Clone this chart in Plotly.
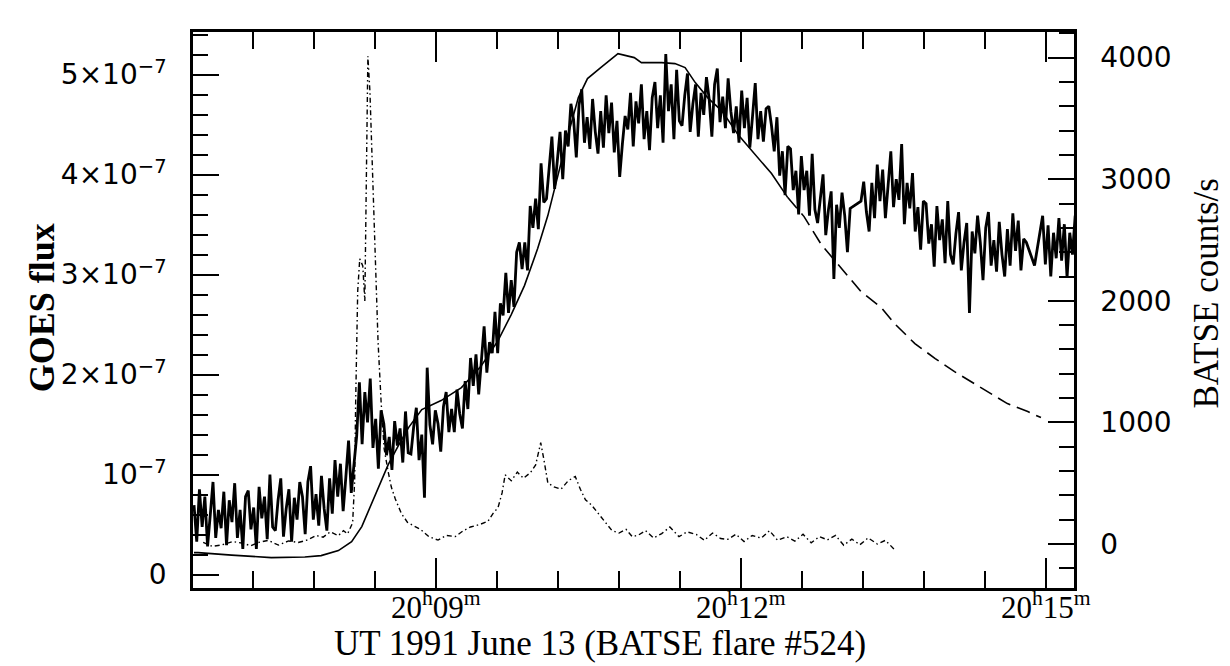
import plotly.graph_objects as go

# ---------------- data ----------------
# time is in minutes after 20:00 UT, 1991 June 13
batse_t0 = 6.62          # time of first BATSE sample (min)
batse_dt = 1.6 / 60.0    # BATSE sample interval (min)
# BATSE counts/s (None = data gap)
batse_counts = [
    320, 20, 450, 140, 390, -20, 240, 510, 50, 280,
    130, 430, -10, 360, 180, 500, 50, 280, -40, 390,
    440, 120, 300, -40, 470, 210, 390, 40, 570, 140,
    110, 360, 540, 60, 290, 450, 20, 380, 200, 510,
    390, 80, 510, 640, 200, 410, 150, 560, 290, 110,
    540, 250, 690, 390, 660, 270, 550, 850, 420, 680,
    890, 1330, 820, 1250, 1000, 1360, 790, 1030, 620, 1100,
    990, 730, 880, 610, 1010, 810, 950, 670, 1090, 750,
    740, 960, 1120, 690, 900, 380, 1450, 980, 820, 1100,
    990, 760, 1130, 1250, 920, 1110, 920, 1270, 1070, 950,
    1340, 1110, 1530, 1300, 1560, 1230, 1510, 1790, 1410, 1660,
    1570, 1910, 1570, 1980, 1880, 2230, 1900, 2170, 1950, 2400,
    2480, 2260, 2480, 2250, 2780, 2600, 2840, 2590, 3130, 2810,
    2840, 3130, 3350, 2920, 3190, 3390, 3000, 3400, 3270, 3620,
    3490, 3180, 3610, 3740, 3300, 3510, 3250, 3660, 3390, 3210,
    3560, 3260, 3690, 3380, 3630, 3220, 3480, 3020, 3290, 3520,
    3410, 3710, 3270, 3640, 3460, 3780, 3330, 3560, 3240, 3670,
    3800, 3420, 3690, 3300, 4030, 3560, 3780, 3330, 3900, 3480,
    3440, 3690, 3870, 3390, 3620, 3780, 3350, 3710, 3530, 3840,
    3660, 3350, 3780, 3910, 3470, 3680, 3420, 3830, 3560, 3380,
    3600, 3300, 3730, 3420, 3670, 3260, 3520, 3790, 3330, 3560,
    3310, 3580, 3600, 3440, 3230, 3510, 3030, 3230, 2870, 3270,
    3250, 2910, 3070, 2710, 3190, 2910, 3070, 2700, 3210, 2750,
    2640, 2870, 3040, 2540, 2750, 2900, 2180, 2790, 2600, 2890,
    2700, 2400, 2760, None, None, None, 2820, 2980, 2730, 2570,
    2970, 2680, 3120, 2820, 3080, 2680, 2950, 3230, 2770, 3000,
    2830, 3290, 2630, 2970, 2760, 3050, 2570, 2770, 2420, 2820,
    2800, 2470, 2630, 2280, 2780, 2500, 2670, 2310, 2820, 2380,
    2300, 2550, 2730, 2250, 2480, 2640, 1900, 2570, 2390, 2700,
    2480, 2170, 2600, 2730, 2290, 2500, 2240, 2650, 2380, 2200,
    2590, 2290, 2720, 2410, 2660, 2250, 2510, 2480, None, None,
    2290, None, None, 2700, 2300, 2620, 2200, 2560, 2350, 2680,
    2330, 2630, 2190, 2560, 2380, 2700, 2250, 2480, 2160, 2590,
]
batse_t = [batse_t0 + i * batse_dt for i in range(len(batse_counts))]

# GOES flux (units of 1e-7), solid part
goes_t = [6.62, 6.66, 6.99, 7.38, 7.71, 7.87, 8.04, 8.17, 8.27, 8.36, 8.45, 8.53,
          8.63, 8.73, 8.86, 9.05, 9.25, 9.44, 9.61, 9.74, 9.87, 10.0, 10.1, 10.2,
          10.3, 10.4, 10.49, 10.62, 10.79, 10.95, 11.02, 11.22, 11.35, 11.45, 11.55,
          11.68, 11.81, 11.97, 12.13, 12.30, 12.46]
goes_flux = [0.22, 0.22, 0.195, 0.17, 0.176, 0.19, 0.24, 0.33, 0.48, 0.70, 0.92, 1.10,
             1.29, 1.47, 1.65, 1.74, 1.87, 2.08, 2.34, 2.60, 2.89, 3.26, 3.59, 4.00,
             4.40, 4.77, 4.96, 5.07, 5.21, 5.17, 5.12, 5.12, 5.11, 5.07, 4.92,
             4.76, 4.64, 4.40, 4.21, 4.01, 3.77]
# GOES flux, dashed continuation
goes_tail_t = [12.46, 12.62, 12.79, 12.98, 13.18, 13.38, 13.51, 13.71, 13.91, 14.10,
               14.23, 14.43, 14.62, 14.82, 14.95]
goes_tail_flux = [3.77, 3.58, 3.30, 3.07, 2.83, 2.67, 2.51, 2.31, 2.16, 2.03,
                  1.95, 1.83, 1.71, 1.63, 1.57]

# dash-dot curve (BATSE counts/s scale)
hxr_t = [6.71, 6.80, 6.90, 7.00, 7.10, 7.18, 7.25, 7.35, 7.45, 7.55, 7.645, 7.74,
         7.82, 7.89, 7.96, 8.04, 8.09, 8.13, 8.18, 8.20, 8.21, 8.22, 8.23, 8.25,
         8.28, 8.30, 8.31, 8.32, 8.33, 8.35, 8.365, 8.39, 8.41, 8.43, 8.46, 8.49,
         8.53, 8.56, 8.60, 8.66, 8.72, 8.78, 8.85, 8.93, 9.02, 9.10, 9.19, 9.27,
         9.34, 9.43, 9.51, 9.56, 9.61, 9.65, 9.68, 9.74, 9.80, 9.86, 9.93, 9.98,
         10.03, 10.06, 10.10, 10.16, 10.23, 10.30, 10.37, 10.42, 10.47, 10.53, 10.60,
         10.66, 10.73, 10.80, 10.87, 10.93, 10.99, 11.06, 11.14, 11.22, 11.30, 11.39,
         11.47, 11.56, 11.64, 11.72, 11.80, 11.87, 11.95, 12.03, 12.11, 12.20, 12.28,
         12.36, 12.45, 12.53, 12.61, 12.69, 12.77, 12.85, 12.93, 13.01, 13.09, 13.17,
         13.25, 13.34, 13.42, 13.51]
hxr_counts = [14, -20, -6, 20, 6, -15, 12, 30, -9, 25, 12, 34,
              70, 56, 100, 69, 110, 83, 174, 519, 1177, 1752, 2081, 2345,
              2287, 1998, 2820, 3560, 4012, 3724, 3312, 2759, 2215, 1664, 1170, 783,
              593, 470, 370, 250, 178, 150, 118, 60, 32, 70, 61, 110,
              140, 160, 186, 250, 299, 420, 569, 520, 591, 540, 588, 650,
              833, 700, 502, 470, 451, 520, 555, 450, 363, 320, 246,
              180, 111, 90, 120, 60, 73, 110, 50, 85, 140, 60,
              100, 78, 30, 90, 45, 38, 80, 20, 70, 48, 110,
              30, 60, 24, 80, 10, 60, 34, 70, -10, 40, -6,
              50, 0, 30, -46]

# axis ticks
x_tick_vals = [9, 12, 15]
x_tick_text = ["20<sup>h</sup>09<sup>m</sup>", "20<sup>h</sup>12<sup>m</sup>",
               "20<sup>h</sup>15<sup>m</sup>"]
y_tick_vals = [0, 1, 2, 3, 4, 5]
y_tick_text = ["0", "10<sup>−7</sup>", "2×10<sup>−7</sup>", "3×10<sup>−7</sup>",
               "4×10<sup>−7</sup>", "5×10<sup>−7</sup>"]
y2_tick_vals = [0, 1000, 2000, 3000, 4000]
y2_tick_text = ["0", "1000", "2000", "3000", "4000"]

# ---------------- figure ----------------
SERIF = "Liberation Serif"
SANS = "DejaVu Sans"
X_RANGE = [6.61, 15.275]

fig = go.Figure()
fig.add_trace(go.Scatter(x=batse_t, y=batse_counts, yaxis="y2", mode="lines",
                         connectgaps=True, line=dict(color="black", width=2.8)))
fig.add_trace(go.Scatter(x=goes_t, y=goes_flux, mode="lines",
                         line=dict(color="black", width=1.6)))
fig.add_trace(go.Scatter(x=goes_tail_t, y=goes_tail_flux, mode="lines",
                         line=dict(color="black", width=1.6, dash="14px,7px")))
fig.add_trace(go.Scatter(x=hxr_t, y=hxr_counts, yaxis="y2", mode="lines",
                         line=dict(color="black", width=1.4, dash="5px,3px,1.5px,3px")))

axis_common = dict(showgrid=False, zeroline=False, showline=True, linecolor="black",
                   linewidth=2.5, ticks="inside", tickcolor="black", tickwidth=2)

# x tick labels as annotations (placed just below the axis)
x_label_ann = [
    dict(text=txt, x=val, xref="x", y=-0.032, yref="paper", xanchor="center",
         yanchor="middle", showarrow=False,
         font=dict(family=SERIF, size=31, color="black"))
    for val, txt in zip(x_tick_vals, x_tick_text)
]

fig.update_layout(
    width=1230, height=666,
    margin=dict(l=185, r=164, t=24, b=86),
    paper_bgcolor="white", plot_bgcolor="white",
    showlegend=False,
    xaxis=dict(range=X_RANGE, mirror="ticks", ticklen=30,
               tickmode="array", tickvals=x_tick_vals, showticklabels=False,
               minor=dict(ticks="inside", ticklen=17, tickwidth=2, tickcolor="black",
                          tick0=9, dtick=0.6, showgrid=False),
               **axis_common),
    yaxis=dict(range=[-0.134, 5.426], mirror=True, ticklen=26,
               tickmode="array", tickvals=y_tick_vals, ticktext=y_tick_text,
               tickfont=dict(family=SANS, size=28, color="black"),
               ticklabelstandoff=18,
               minor=dict(ticks="inside", ticklen=15, tickwidth=2, tickcolor="black",
                          tick0=0, dtick=0.2, showgrid=False),
               **axis_common),
    yaxis2=dict(range=[-362, 4211], overlaying="y", side="right", ticklen=26,
                tickmode="array", tickvals=y2_tick_vals, ticktext=y2_tick_text,
                tickfont=dict(family=SANS, size=28, color="black"),
                ticklabelstandoff=18,
                minor=dict(ticks="inside", ticklen=15, tickwidth=2, tickcolor="black",
                           tick0=0, dtick=200, showgrid=False),
                **axis_common),
    annotations=x_label_ann + [
        dict(text="UT 1991 June 13 (BATSE flare #524)", xref="paper", yref="paper",
             x=0.462, y=-0.1, xanchor="center", yanchor="middle", showarrow=False,
             font=dict(family=SERIF, size=35, color="black")),
        dict(text="<b>GOES flux</b>", xref="paper", yref="paper", x=-0.172, y=0.504,
             xanchor="center", yanchor="middle", textangle=-90, showarrow=False,
             font=dict(family=SERIF, size=36, color="black")),
        dict(text="BATSE counts/s", xref="paper", yref="paper", x=1.150, y=0.53,
             xanchor="center", yanchor="middle", textangle=-90, showarrow=False,
             font=dict(family=SERIF, size=35, color="black")),
    ],
)

fig.write_html("out.html")
